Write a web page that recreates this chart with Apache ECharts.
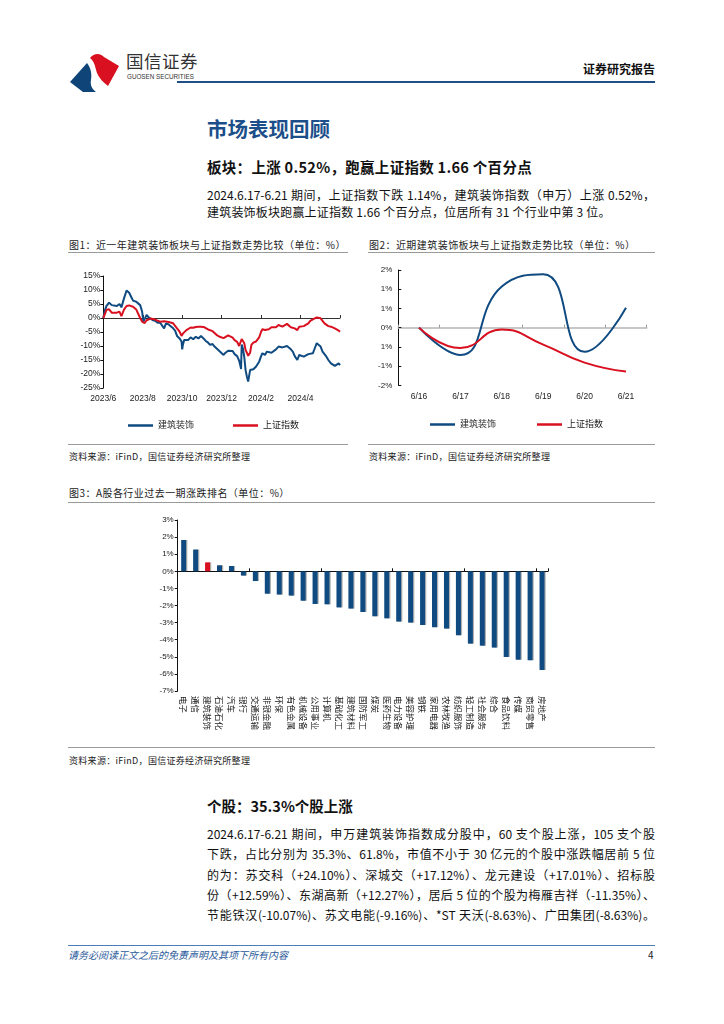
<!DOCTYPE html>
<html><head><meta charset="utf-8">
<script src="https://cdn.jsdelivr.net/npm/echarts@6.0.0/dist/echarts.min.js"></script>
<style>
html,body{margin:0;padding:0;background:#fff}
body{width:724px;height:1024px;position:relative;overflow:hidden;font-family:"Noto Sans CJK SC","Noto Sans",sans-serif;color:#000}
.a{position:absolute;white-space:nowrap}
.line{position:absolute;height:0}
.jl{position:absolute;left:207px;width:448px;font-size:12px;text-align:justify;text-align-last:justify;white-space:nowrap;color:#111}
.ct{position:absolute;font-size:10px;color:#222;letter-spacing:0.45px;line-height:12px}
.src{position:absolute;font-size:9px;color:#222;letter-spacing:0.3px;line-height:11px}
.chart{position:absolute}
</style></head>
<body>
<!-- header -->
<svg class="a" style="left:69px;top:49px" width="52" height="44" viewBox="0 0 52 44">
  <path d="M1,33 L18,14 C22,19 23,25 22,31 C21,36 23,40 27,43 L14,43 Z" fill="#0f4478"/>
  <path d="M21,9 C25,4 31,4 35,8 L50,17 L39,37 C34,33 30,29 28,24 C26,18 26,13 21,9 Z" fill="#d8101f"/>
</svg>
<div class="a" style="left:126px;top:51px;font-size:17.5px;line-height:20px;color:#333;letter-spacing:0.5px">国信证券</div>
<div class="a" style="left:127px;top:73px;font-size:6.3px;line-height:8px;color:#333;font-family:'Liberation Sans',sans-serif">GUOSEN SECURITIES</div>
<div class="a" style="left:583px;top:62px;font-size:12px;line-height:14px;font-weight:bold;color:#111">证券研究报告</div>
<div class="line" style="left:177px;top:81px;width:478px;border-top:2px solid #1f4f86"></div>

<div class="a" style="left:207px;top:117px;font-size:20.5px;line-height:22px;font-weight:bold;color:#1c4f8a">市场表现回顾</div>
<div class="a" style="left:207px;top:159px;font-size:14.5px;line-height:16px;font-weight:bold;color:#111;letter-spacing:0.3px">板块：上涨 0.52%，跑赢上证指数 1.66 个百分点</div>
<div class="jl" style="top:186px;line-height:18px">2024.6.17-6.21 期间，上证指数下跌 1.14%，建筑装饰指数（申万）上涨 0.52%，</div>
<div class="jl" style="top:203px;line-height:18px;width:420px;text-align-last:left;letter-spacing:0.2px">建筑装饰板块跑赢上证指数 1.66 个百分点，位居所有 31 个行业中第 3 位。</div>

<!-- chart 1/2 titles -->
<div class="ct" style="left:69px;top:239px">图1：近一年建筑装饰板块与上证指数走势比较（单位：%）</div>
<div class="line" style="left:68px;top:252px;width:280px;border-top:1.5px solid #9a9a9a"></div>
<div class="ct" style="left:369px;top:239px">图2：近期建筑装饰板块与上证指数走势比较（单位：%）</div>
<div class="line" style="left:368px;top:252px;width:287px;border-top:1.5px solid #9a9a9a"></div>
<div id="c1" class="chart" style="left:60px;top:258px;width:300px;height:182px"></div>
<div id="c2" class="chart" style="left:360px;top:258px;width:300px;height:182px"></div>
<div class="line" style="left:68px;top:444px;width:280px;border-top:1.5px solid #9a9a9a"></div>
<div class="line" style="left:368px;top:444px;width:287px;border-top:1.5px solid #9a9a9a"></div>
<div class="src" style="left:69px;top:451px">资料来源：iFinD，国信证券经济研究所整理</div>
<div class="src" style="left:369px;top:451px">资料来源：iFinD，国信证券经济研究所整理</div>

<!-- chart 3 -->
<div class="ct" style="left:69px;top:487px">图3：A股各行业过去一期涨跌排名（单位：%）</div>
<div class="line" style="left:68px;top:502px;width:587px;border-top:1.5px solid #9a9a9a"></div>
<div id="c3" class="chart" style="left:60px;top:505px;width:600px;height:240px"></div>
<div class="line" style="left:68px;top:747px;width:587px;border-top:1.5px solid #9a9a9a"></div>
<div class="src" style="left:69px;top:755px">资料来源：iFinD，国信证券经济研究所整理</div>

<div class="a" style="left:207px;top:798px;font-size:14.5px;line-height:16px;font-weight:bold;color:#111">个股：35.3%个股上涨</div>
<div class="jl" style="top:824px;line-height:20px">2024.6.17-6.21 期间，申万建筑装饰指数成分股中，60 支个股上涨，105 支个股</div>
<div class="jl" style="top:844px;line-height:20px">下跌，占比分别为 35.3%、61.8%，市值不小于 30 亿元的个股中涨跌幅居前 5 位</div>
<div class="jl" style="top:865px;line-height:20px">的为：苏交科（+24.10%）、深城交（+17.12%）、龙元建设（+17.01%）、招标股</div>
<div class="jl" style="top:885px;line-height:20px">份（+12.59%）、东湖高新（+12.27%），居后 5 位的个股为梅雁吉祥（-11.35%）、</div>
<div class="jl" style="top:905px;line-height:20px">节能铁汉(-10.07%)、苏文电能(-9.16%)、*ST 天沃(-8.63%)、广田集团(-8.63%)。</div>

<div class="line" style="left:68px;top:945px;width:587px;border-top:1px solid #4d7db8"></div>
<div class="a" style="left:68px;top:949px;font-size:10px;line-height:12px;color:#2a5a9a;font-style:italic">请务必阅读正文之后的免责声明及其项下所有内容</div>
<div class="a" style="left:648px;top:949px;font-size:10px;line-height:12px;color:#222">4</div>

<script>
// ---------- Chart 1 data: one-year trend (days since 2023-06-21, cumulative %) ----------
const trendStart = Date.UTC(2023, 5, 21);
const trendDayOffsets = [0,3,5,9,13,16,21,25,28,32,36,40,43,46,51,54,57,60,62,64,67,70,73,76,80,84,88,91,94,97,101,104,108,111,114,118,121,122,123,125,128,131,135,139,143,147,151,155,158,162,165,169,172,175,179,182,186,189,193,196,200,203,207,210,212,213,214,216,218,220,222,224,226,227,229,232,236,239,241,244,246,250,253,256,260,263,267,271,274,277,280,284,287,290,293,296,300,303,306,310,313,317,320,324,327,330,333,336,339,342,345,348,352,355,358,361,364,366];
const trendBuilding = [0,3.1,4.3,5.5,4.6,5.0,4.3,5.0,3.8,7.0,9.8,9.0,7.6,6.2,5.8,5.5,4.6,2.3,-1.3,-1.7,1.1,0.2,0.7,-0.7,-1.0,-1.7,-1.7,-2.3,-3.7,-1.9,-2.3,-2.7,-3.7,-4.5,-6.4,-7.3,-8.4,-11.2,-9.6,-7.9,-7.3,-7.9,-6.9,-7.6,-6.7,-7.3,-6.4,-7.3,-8.1,-8.8,-9.6,-9.3,-10.2,-10.8,-11.7,-12.4,-13.2,-12.4,-11.7,-11.2,-11.8,-12.9,-13.6,-15.2,-17.1,-18.2,-9.5,-11.0,-14.0,-18.6,-20.9,-22.7,-22.5,-18.6,-18.0,-18.3,-17.4,-16.8,-15.6,-13.6,-12.6,-13.2,-12.0,-12.6,-12.4,-11.7,-11.2,-10.2,-9.6,-10.5,-11.2,-10.0,-9.6,-11.2,-12.0,-13.6,-15.0,-13.2,-12.9,-13.8,-13.2,-12.9,-13.2,-12.6,-10.8,-9.0,-9.0,-10.2,-12.0,-12.6,-13.8,-15.0,-16.2,-16.8,-17.1,-17.4,-16.2,-16.8];
const trendSSE = [0,1.7,2.9,3.1,1.9,2.5,1.9,2.3,0.7,3.0,4.3,4.5,4.4,4.0,3.0,2.3,0.0,-1.3,-1.8,-1.8,-0.8,-0.4,-0.2,-0.7,-0.5,-1.0,-1.3,-1.0,-1.2,-1.3,-1.4,-1.7,-1.9,-2.3,-3.7,-4.9,-6.4,-6.0,-5.6,-5.2,-4.4,-3.9,-3.4,-3.5,-3.2,-3.1,-3.1,-3.2,-3.5,-4.1,-4.6,-4.7,-5.2,-6.0,-6.6,-7.0,-7.2,-6.6,-6.2,-6.7,-7.0,-7.9,-8.5,-10.0,-10.5,-9.5,-7.5,-8.0,-9.0,-11.4,-12.4,-13.5,-13.8,-12.4,-9.6,-8.8,-8.4,-7.9,-6.9,-4.9,-4.0,-4.3,-3.7,-4.0,-3.3,-3.1,-3.3,-2.5,-2.1,-3.1,-2.9,-2.1,-2.5,-3.3,-2.9,-3.7,-4.3,-3.1,-3.3,-2.9,-2.5,-1.9,-1.0,-0.5,-0.1,0.2,0.7,-0.1,-1.0,-1.9,-2.5,-2.9,-3.1,-3.5,-3.7,-4.0,-4.5,-4.9];
const trendSeriesNames = ['建筑装饰', '上证指数'];

// ---------- Chart 2 data: recent week ----------
const recentDates = ['6/16','6/17','6/18','6/19','6/20','6/21'];
const recentBuilding = [0, -0.71, 1.07, 1.39, -0.63, 0.52];
const recentSSE = [0, -0.53, -0.05, -0.44, -0.91, -1.14];
const recentTickValues = [-1.5, -1, -0.5, 0, 0.5, 1, 1.5];
const recentTickLabels = ['-2%', '-1%', '1%', '0%', '1%', '1%', '2%'];

// ---------- Chart 3 data: industry ranking ----------
const industries = ['电子','通信','建筑装饰','石油石化','汽车','银行','交通运输','非银金融','环保','有色金属','机械设备','公用事业','计算机','基础化工','建筑材料','国防军工','煤炭','医药生物','电力设备','美容护理','钢铁','家用电器','农林牧渔','纺织服饰','轻工制造','社会服务','综合','食品饮料','传媒','商贸零售','房地产'];
const industryChanges = [1.83,1.27,0.52,0.35,0.31,-0.25,-0.57,-1.31,-1.36,-1.42,-1.72,-1.91,-1.93,-2.11,-2.18,-2.38,-2.63,-2.75,-2.94,-3.00,-3.14,-3.27,-3.35,-3.74,-4.23,-4.35,-4.46,-5.01,-5.17,-5.20,-5.77];
const highlightIndustry = '建筑装饰';

const BLUE = '#0f4a80', RED = '#d8101f';
const FONT = "'Liberation Sans','Noto Sans CJK SC',sans-serif";
const DAY = 86400000;

function fmtMonth(offset) {
  const d = new Date(trendStart + offset * DAY);
  return d.getUTCFullYear() + '/' + (d.getUTCMonth() + 1);
}

// Chart 1
const c1 = echarts.init(document.getElementById('c1'), null, {renderer: 'canvas'});
c1.setOption({
  animation: false,
  textStyle: {fontFamily: FONT},
  grid: {left: 43.3, top: 18, width: 236.7, height: 112},
  legend: {
    left: 63, top: 158, itemWidth: 25, itemHeight: 2.5, itemGap: 39, icon: 'rect',
    textStyle: {fontSize: 9, color: '#222', fontFamily: FONT},
    data: trendSeriesNames
  },
  xAxis: [
    {type: 'value', min: 0, max: 366, interval: 61, position: 'bottom',
     axisLine: {onZero: true, lineStyle: {color: '#333', width: 1}},
     axisTick: {show: true, inside: true, length: 3, lineStyle: {color: '#333'}},
     axisLabel: {show: false}, splitLine: {show: false}},
    {type: 'value', min: 0, max: 366, interval: 61, position: 'bottom',
     axisLine: {show: false, onZero: false}, axisTick: {show: false}, splitLine: {show: false},
     axisLabel: {show: true, fontSize: 8.5, color: '#222', margin: 6, showMaxLabel: false,
       formatter: v => fmtMonth(v)}}
  ],
  yAxis: {type: 'value', min: -25, max: 15, interval: 5,
    axisLine: {show: true, lineStyle: {color: '#111'}},
    axisTick: {show: true, length: 3, lineStyle: {color: '#111'}},
    axisLabel: {fontSize: 8.5, color: '#222', margin: 3, formatter: '{value}%'},
    splitLine: {show: false}},
  series: [
    {name: trendSeriesNames[0], type: 'line', xAxisIndex: 0, showSymbol: false,
     lineStyle: {width: 2, color: BLUE}, itemStyle: {color: BLUE},
     data: trendDayOffsets.map((d, i) => [d, trendBuilding[i]])},
    {name: trendSeriesNames[1], type: 'line', xAxisIndex: 0, showSymbol: false,
     lineStyle: {width: 2, color: RED}, itemStyle: {color: RED},
     data: trendDayOffsets.map((d, i) => [d, trendSSE[i]])}
  ]
});

// Chart 2
const c2 = echarts.init(document.getElementById('c2'));
c2.setOption({
  animation: false,
  textStyle: {fontFamily: FONT},
  grid: {left: 38.3, top: 12, width: 248.4, height: 115.3},
  legend: {
    left: 65, top: 157, itemWidth: 25, itemHeight: 2.5, itemGap: 41, icon: 'rect',
    textStyle: {fontSize: 9, color: '#222', fontFamily: FONT},
    data: trendSeriesNames
  },
  xAxis: [
    {type: 'category', data: recentDates, boundaryGap: true,
     axisLine: {onZero: true, lineStyle: {color: '#b5b5b5', width: 1.5}},
     axisTick: {show: true, inside: true, length: 3, lineStyle: {color: '#999'}},
     axisLabel: {show: false}},
    {type: 'category', data: recentDates, boundaryGap: true, position: 'bottom',
     axisLine: {show: false, onZero: false}, axisTick: {show: false},
     axisLabel: {fontSize: 8.5, color: '#222', margin: 7}}
  ],
  yAxis: {type: 'value', min: -1.5, max: 1.5, interval: 0.5,
    axisLine: {show: true, lineStyle: {color: '#111'}},
    axisTick: {show: true, inside: true, length: 3, lineStyle: {color: '#111'}},
    axisLabel: {fontSize: 8, color: '#222', margin: 6,
      formatter: v => { const i = recentTickValues.findIndex(t => Math.abs(t - v) < 1e-6); return i >= 0 ? recentTickLabels[i] : ''; }},
    splitLine: {show: false}},
  series: [
    {name: trendSeriesNames[0], type: 'line', xAxisIndex: 0, smooth: 0.5, showSymbol: false,
     lineStyle: {width: 2, color: BLUE}, itemStyle: {color: BLUE}, data: recentBuilding},
    {name: trendSeriesNames[1], type: 'line', xAxisIndex: 0, smooth: 0.5, showSymbol: false,
     lineStyle: {width: 2, color: RED}, itemStyle: {color: RED}, data: recentSSE}
  ]
});

// Chart 3
const c3 = echarts.init(document.getElementById('c3'));
c3.setOption({
  animation: false,
  textStyle: {fontFamily: FONT},
  grid: {left: 117.7, top: 15, width: 370.3, height: 171},
  xAxis: [
    {type: 'category', data: industries,
     axisLine: {onZero: true, lineStyle: {color: '#111', width: 1}},
     axisTick: {show: true, inside: true, length: 3, lineStyle: {color: '#111'}},
     axisLabel: {show: false}},
    {type: 'category', data: industries, position: 'bottom',
     axisLine: {show: false, onZero: false}, axisTick: {show: false},
     axisLabel: {interval: 0, rotate: -90, align: 'left', verticalAlign: 'middle',
       fontSize: 8.5, color: '#222', margin: 5,
       fontFamily: "'Noto Sans CJK SC',sans-serif"}}
  ],
  yAxis: {type: 'value', min: -7, max: 3, interval: 1,
    axisLine: {show: true, lineStyle: {color: '#111'}},
    axisTick: {show: true, length: 3, lineStyle: {color: '#111'}},
    axisLabel: {fontSize: 8, color: '#222', margin: 4, formatter: '{value}%'},
    splitLine: {show: false}},
  series: [{
    type: 'bar', xAxisIndex: 0, barWidth: 5,
    data: industryChanges.map((v, i) => ({
      value: v,
      itemStyle: {color: industries[i] === highlightIndustry ? RED : BLUE}
    })),
    itemStyle: {shadowColor: 'rgba(0,0,0,0.3)', shadowOffsetX: 1.2, shadowBlur: 0}
  }]
});
</script>
</body></html>
